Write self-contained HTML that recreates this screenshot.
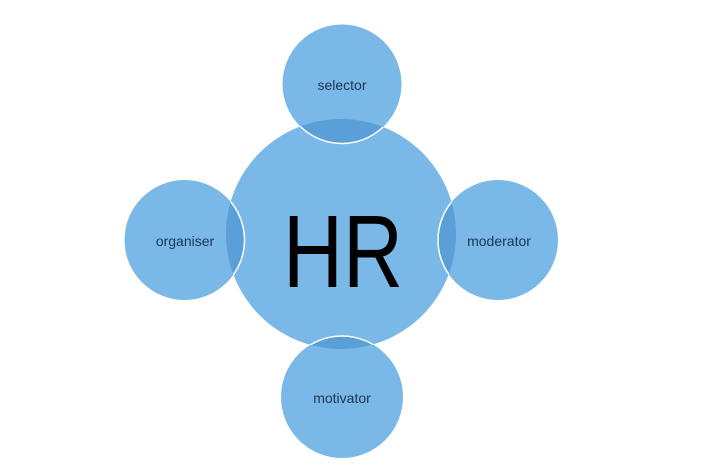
<!DOCTYPE html>
<html><head><style>html,body{margin:0;padding:0;background:#fff;}svg{display:block}</style></head>
<body>
<svg width="719" height="467" viewBox="0 0 719 467" xmlns="http://www.w3.org/2000/svg">
<defs>
<clipPath id="m"><circle cx="341" cy="234" r="115"/></clipPath>
</defs>
<circle cx="341" cy="234" r="115" fill="#79b8e7"/>
<g fill="#79b8e7">
<circle cx="342" cy="84" r="59.5"/>
<circle cx="184.5" cy="240" r="60"/>
<circle cx="498" cy="240" r="60"/>
<circle cx="342" cy="397" r="61"/>
</g>
<g fill="#5a9fd8" clip-path="url(#m)">
<circle cx="342" cy="84" r="59.5"/>
<circle cx="184.5" cy="240" r="60"/>
<circle cx="498" cy="240" r="60"/>
<circle cx="342" cy="397" r="61"/>
</g>
<g fill="none" stroke="#fff" stroke-width="1.5" clip-path="url(#m)">
<circle cx="342" cy="84" r="59.5"/>
<circle cx="184.5" cy="240" r="60"/>
<circle cx="498" cy="240" r="60"/>
<circle cx="342" cy="397" r="61"/>
</g>
<g font-family="Liberation Sans, sans-serif" fill="#1c3553" text-anchor="middle" font-size="14">
<text x="342" y="90">selector</text>
<text x="185" y="246">organiser</text>
<text x="499" y="246">moderator</text>
<text x="342" y="403">motivator</text>
</g>
<text x="283" y="287" font-family="Liberation Sans, sans-serif" font-size="103" textLength="120" lengthAdjust="spacingAndGlyphs" fill="#000">HR</text>
</svg>
</body></html>
